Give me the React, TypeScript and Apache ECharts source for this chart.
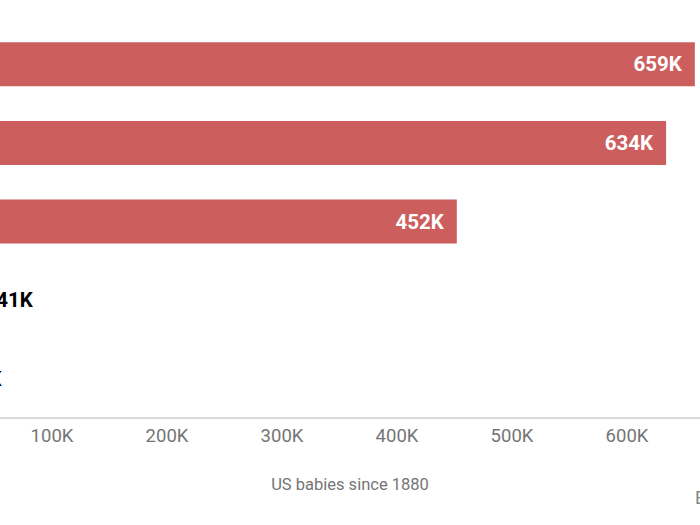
import React, { useEffect, useRef } from "react";
import * as echarts from "echarts";

const categories = ["Name A", "Name B", "Name C", "Name D", "Name E"];
const values = [659000, 634000, 452000, 41000, 14000];
const xTicks = [0, 100000, 200000, 300000, 400000, 500000, 600000, 700000];
const axisTitle = "US babies since 1880";
const sourceText = "BUSINESS INSIDER";

const SHIFT = 200;

export default function App() {
  const ref = useRef<HTMLDivElement>(null);
  useEffect(() => {
    if (!ref.current) return;
    const chart = echarts.init(ref.current, null, { renderer: "svg" });
    const fmt = (v: number) => Math.round(v / 1000) + "K";
    chart.setOption({
      animation: false,
      grid: { left: 137, right: 58, top: 25, bottom: 107, containLabel: false },
      xAxis: {
        type: "value",
        min: xTicks[0],
        max: xTicks[xTicks.length - 1],
        interval: 100000,
        axisLine: { show: true, lineStyle: { color: "#d9d9d9", width: 2 } },
        axisTick: { show: false },
        splitLine: { show: false },
        axisLabel: {
          color: "#757575",
          fontSize: 18.5,
          fontFamily: "Roboto",
          margin: 8,
          formatter: (v: number) => (v === 0 ? "0" : fmt(v)),
        },
      },
      yAxis: {
        type: "category",
        data: categories,
        inverse: true,
        axisLine: { show: false },
        axisTick: { show: false },
        axisLabel: { color: "#333", fontSize: 16, fontFamily: "Roboto" },
      },
      series: [
        {
          type: "bar",
          barWidth: 44,
          itemStyle: { color: "#cc5e5e" },
          data: values.map((v) => ({
            value: v,
            label:
              v > 100000
                ? { show: true, position: "insideRight", distance: 13, color: "#fff" }
                : { show: true, position: "right", distance: 12, color: "#000" },
          })),
          label: {
            fontSize: 20.5,
            fontWeight: "bold",
            fontFamily: "Roboto",
            formatter: (p: any) => fmt(p.value),
          },
        },
      ],
      graphic: [
        {
          type: "text",
          x: 350 + SHIFT,
          y: 484,
          style: {
            text: axisTitle,
            fill: "#757575",
            fontSize: 16.5,
            fontFamily: "Roboto",
            align: "center",
            verticalAlign: "middle",
          },
        },
        {
          type: "text",
          x: 695 + SHIFT,
          y: 497,
          style: {
            text: sourceText,
            fill: "#888",
            fontSize: 18,
            fontFamily: "Roboto",
            verticalAlign: "middle",
          },
        },
      ],
    });
    return () => chart.dispose();
  }, []);
  return (
    <div
      style={{
        position: "fixed",
        left: 0,
        top: 0,
        width: 700,
        height: 525,
        overflow: "hidden",
        background: "#fff",
      }}
    >
      <div
        ref={ref}
        style={{ position: "absolute", left: -SHIFT, top: 0, width: 1000, height: 525 }}
      />
    </div>
  );
}
